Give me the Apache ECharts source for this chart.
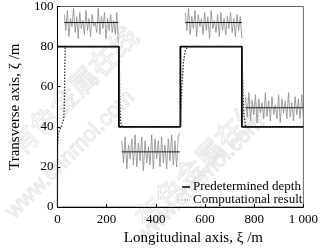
<!DOCTYPE html>
<html><head><meta charset="utf-8">
<script src="https://cdn.jsdelivr.net/npm/echarts@6/dist/echarts.min.js"></script>
<style>html,body{margin:0;padding:0;background:#fff}#c{width:321px;height:251px}</style>
</head><body><div id="c"></div>
<script>
var xTicks = [0, 200, 400, 600, 800, 1000];
var yTicks = [0, 20, 40, 60, 80, 100];
var legendNames = ['Predetermined depth', 'Computational result'];
var depth = [[0,80],[250,80],[250,40],[500,40],[500,80],[750,80],[750,40],[1000,40]];
var computed = [[0,0],[1,30],[4,37],[15,40],[26,44],[29,55],[30,70],[32,80],[250,80],[252,70],[254,50],[258,42],[264,40],[500,40],[502,48],[506,60],[512,72],[520,78],[530,80],[750,80],[752,70],[755,55],[759,45],[766,40],[1000,40]];
var seg1Range = [28, 248], seg1Mean = 92;
var seg1 = [96,88,98,85,94,90,99,87,95,84,97,89,93,86,98,88,94,85,96,90,92,87,99,86,95,89,97,84,94,88,96,87,93,86,97,82];
var seg2Range = [262, 498], seg2Mean = 27.5;
var seg2 = [33,22,35,19,31,24,34,21,36,20,32,23,35,18,33,22,30,21,36,19,34,24,33,20,35,22,31,19,34,23,36,21,33,20,35,37];
var seg3Range = [520, 750], seg3Mean = 92;
var seg3 = [97,88,99,86,95,89,98,85,96,90,94,86,97,88,95,84,98,89,93,87,96,85,97,88,94,86,95,89,97,87,94,85,96,88,95,84];
var seg4Range = [765, 1000], seg4Mean = 49.5;
var seg4 = [55,45,57,43,53,46,56,42,54,47,52,44,57,45,53,43,55,46,51,44,56,42,54,47,53,44,57,45,52,43,55,46,54,44,56,45];

function spread(range, vals){
  var n = vals.length;
  return vals.map(function(v,i){ return [range[0] + (range[1]-range[0]) * i/(n-1), v]; });
}
var F = 'Liberation Serif';
var noiseSeries = [];
[[seg1Range,seg1,seg1Mean],[seg2Range,seg2,seg2Mean],[seg3Range,seg3,seg3Mean],[seg4Range,seg4,seg4Mean]].forEach(function(s){
  noiseSeries.push({type:'line', data: spread(s[0], s[1]), showSymbol:false, symbol:'none', silent:true,
    lineStyle:{color:'#8a8a8a', width:0.8}, z:1});
  noiseSeries.push({type:'line', data: [[s[0][0], s[2]],[s[0][1], s[2]]], showSymbol:false, symbol:'none', silent:true,
    lineStyle:{color:'#222', width:1}, z:2});
});

var chart = echarts.init(document.getElementById('c'), null, {renderer:'canvas'});
var wm = '#e4e4e4';
chart.setOption({
  animation:false,
  backgroundColor:'#fff',
  grid:{left:42, right:11, top:5, bottom:32, show:true, borderColor:'#666', borderWidth:1},
  graphic:[
    {type:'text', x:14, y:150, rotation:Math.PI/4, z:0, style:{text:'有色金属在线', fill:'rgba(0,0,0,0)', stroke:wm, lineWidth:1, font:'28px "Noto Sans CJK SC"', verticalAlign:'middle'}},
    {type:'text', x:140, y:222, rotation:Math.PI/4, z:0, style:{text:'有色金属在线', fill:'rgba(0,0,0,0)', stroke:wm, lineWidth:1, font:'28px "Noto Sans CJK SC"', verticalAlign:'middle'}},
    {type:'text', x:10, y:215, rotation:Math.PI/4, z:0, style:{text:'www.cnnmol.com', fill:'rgba(0,0,0,0)', stroke:wm, lineWidth:1, font:'22px "Liberation Sans"', verticalAlign:'middle'}},
    {type:'text', x:140, y:240, rotation:Math.PI/4, z:0, style:{text:'www.cnnmol.com', fill:'rgba(0,0,0,0)', stroke:wm, lineWidth:1, font:'22px "Liberation Sans"', verticalAlign:'middle'}},
    {type:'line', z:10, shape:{x1:182, y1:187, x2:190, y2:187}, style:{stroke:'#000', lineWidth:1.5}},
    {type:'line', z:10, shape:{x1:182, y1:200, x2:190, y2:200}, style:{stroke:'#555', lineWidth:1.2, lineDash:[1,1.5]}},
    {type:'text', z:10, x:193, y:187, style:{text:legendNames[0], fill:'#000', font:'13px "Liberation Serif"', verticalAlign:'middle'}},
    {type:'text', z:10, x:193, y:200, style:{text:legendNames[1], fill:'#000', font:'13px "Liberation Serif"', verticalAlign:'middle'}}
  ],
  xAxis:{
    type:'value', min:0, max:1000, interval:200,
    name:'Longitudinal axis, ξ /m', nameLocation:'middle', nameGap:24,
    nameTextStyle:{fontFamily:F, fontSize:15, color:'#000', padding:[0,0,0,26]},
    axisLine:{lineStyle:{color:'#000', width:1}},
    axisTick:{inside:true, length:3, lineStyle:{color:'#000'}},
    axisLabel:{fontFamily:F, fontSize:13, color:'#000', margin:6,
      formatter:function(v){ return v===1000 ? '1 000' : String(v); }},
    splitLine:{show:false}
  },
  yAxis:{
    type:'value', min:0, max:100, interval:20,
    name:'Transverse axis, ζ /m', nameLocation:'middle', nameGap:31,
    nameTextStyle:{fontFamily:F, fontSize:15, color:'#000'},
    axisLine:{show:true, lineStyle:{color:'#000', width:1}},
    axisTick:{show:true, inside:true, length:3, lineStyle:{color:'#000'}},
    axisLabel:{fontFamily:F, fontSize:13, color:'#000', margin:4},
    splitLine:{show:false}
  },
  series: noiseSeries.concat([
    {name:legendNames[0], type:'line', data:depth, showSymbol:false, symbol:'none',
      lineStyle:{color:'#000', width:1.8}, z:4},
    {name:legendNames[1], type:'line', data:computed, showSymbol:false, symbol:'none',
      lineStyle:{color:'#333', width:1.3, type:[1.5,1.5]}, z:5}
  ])
});
</script></body></html>
